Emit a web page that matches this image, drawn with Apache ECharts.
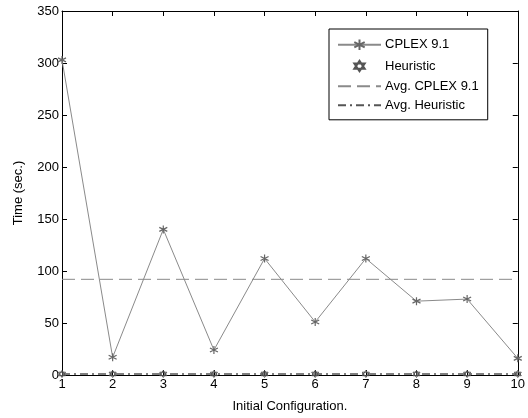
<!DOCTYPE html>
<html><head><meta charset="utf-8">
<script src="https://cdn.jsdelivr.net/npm/echarts@6/dist/echarts.min.js"></script>
<style>html,body{margin:0;padding:0;background:#fff}#c{width:528px;height:418px}</style>
</head><body><div id="c"></div>
<script>
const configs = [1,2,3,4,5,6,7,8,9,10];
const cplex = [303,17,140,24,112,51,112,71,73,16];
const heuristic = [1,1,1,1,1,1,1,1,1,1];
const avgCplex = 92;
const avgHeur = 1;
const yTicks = [0,50,100,150,200,250,300,350];

const font = 'Liberation Sans, Arial, sans-serif';
const star = 'path://M0,-5L0,5M-4.33,-2.5L4.33,2.5M-4.33,2.5L4.33,-2.5';
const hexa = 'path://M0,-5L4.33,2.5L-4.33,2.5ZM0,5L4.33,-2.5L-4.33,-2.5Z';
const gray = '#8a8a8a';

const chart = echarts.init(document.getElementById('c'), null, {renderer:'canvas'});
const axisCommon = {
  axisLine:{show:true,onZero:false,lineStyle:{color:'#000',width:1}},
  axisTick:{show:true,inside:true,length:5,lineStyle:{color:'#000'}},
  splitLine:{show:false}
};
chart.setOption({
  animation:false,
  backgroundColor:'#fff',
  grid:{left:62,right:3,top:11,bottom:42,containLabel:false},
  xAxis:[
    Object.assign({type:'value',min:1,max:10,interval:1,position:'bottom',
      name:'Initial Configuration.',nameLocation:'middle',nameGap:25,
      nameTextStyle:{fontFamily:font,fontSize:13,color:'#000'},
      axisLabel:{fontFamily:font,fontSize:13,color:'#000',margin:3}},axisCommon),
    Object.assign({type:'value',min:1,max:10,interval:1,position:'top',axisLabel:{show:false}},axisCommon)
  ],
  yAxis:[
    Object.assign({type:'value',min:0,max:350,interval:50,position:'left',
      name:'Time (sec.)',nameLocation:'middle',nameGap:37,
      nameTextStyle:{fontFamily:font,fontSize:13,color:'#000'},
      axisLabel:{fontFamily:font,fontSize:13,color:'#000',margin:3,
        formatter:v=>yTicks.includes(v)?String(v):''}},axisCommon),
    Object.assign({type:'value',min:0,max:350,interval:50,position:'right',axisLabel:{show:false}},axisCommon)
  ],
  legend:{
    left:329,top:29,orient:'vertical',
    backgroundColor:'#fff',borderColor:'#000',borderWidth:1,
    padding:[8,9,8,8],itemGap:6,itemWidth:43,itemHeight:13,
    textStyle:{fontFamily:font,fontSize:13,color:'#000',padding:[0,0,0,-1]},
    data:['CPLEX 9.1','Heuristic','Avg. CPLEX 9.1','Avg. Heuristic']
  },
  series:[
    {name:'Avg. CPLEX 9.1',type:'line',showSymbol:false,symbol:'circle',symbolSize:0,
      data:[[configs[0],avgCplex],[configs[configs.length-1],avgCplex]],
      lineStyle:{color:gray,width:1,type:[13,6]},itemStyle:{color:'rgba(0,0,0,0)',borderWidth:0}},
    {name:'Avg. Heuristic',type:'line',showSymbol:false,symbol:'circle',symbolSize:0,
      data:[[configs[0],avgHeur],[configs[configs.length-1],avgHeur]],
      lineStyle:{color:'#555',width:1.5,type:[8,4,2,4]},itemStyle:{color:'rgba(0,0,0,0)',borderWidth:0}},
    {name:'CPLEX 9.1',type:'line',symbol:star,symbolSize:8,
      data:configs.map((c,i)=>[c,cplex[i]]),
      lineStyle:{color:gray,width:1},
      itemStyle:{color:'none',borderColor:'#666',borderWidth:1.2}},
    {name:'Heuristic',type:'line',symbol:hexa,symbolSize:7,
      data:configs.map((c,i)=>[c,heuristic[i]]),
      lineStyle:{width:0,opacity:0},
      itemStyle:{color:'none',borderColor:'#555',borderWidth:1}}
  ]
});
</script></body></html>
